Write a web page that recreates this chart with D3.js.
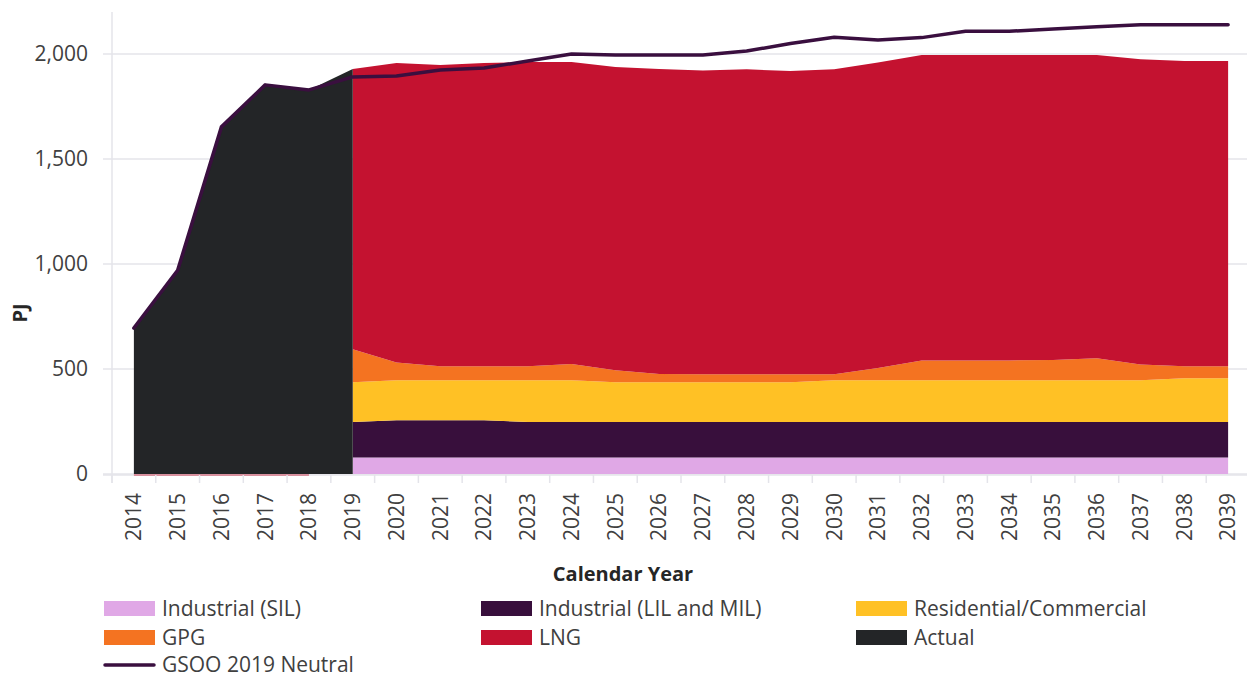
<!DOCTYPE html>
<html lang="en">
<head>
    <meta charset="UTF-8">
    <title>Gas consumption forecast</title>
    <script src="https://cdn.jsdelivr.net/npm/d3@7"></script>
    <style>
        body { margin: 0; background: #fff; }
        text { font-family: "Open Sans", "Noto Sans", sans-serif; }
    </style>
</head>
<body>
<script>
    // data (PJ)
    var years = d3.range(2014, 2040)
    var forecastYears = d3.range(2019, 2040)
    var actualYears = [2014, 2015, 2016, 2017, 2018, 2019]

    var actual = [695, 970, 1653, 1853, 1829, 1929]
    var sil = [78, 78, 78, 78, 78, 78, 78, 78, 78, 78, 78, 78, 78, 78, 78, 78, 78, 78, 78, 78, 78]
    var lilMil = [170, 178, 178, 178, 170, 170, 170, 170, 170, 170, 170, 170, 170, 170, 170, 170, 170, 170, 170, 170, 170]
    var resCom = [189, 190, 190, 190, 198, 198, 189, 189, 189, 189, 189, 198, 198, 198, 198, 198, 198, 198, 198, 208, 208]
    var gpg = [157, 85, 67, 67, 67, 78, 57, 39, 38, 38, 38, 29, 59, 95, 95, 95, 97, 105, 76, 57, 57]
    var lng = [1335, 1426, 1435, 1444, 1449, 1438, 1444, 1453, 1446, 1452, 1444, 1452, 1454, 1454, 1454, 1454, 1452, 1444, 1453, 1454, 1454]
    var gsoo = [695, 970, 1653, 1853, 1829, 1891, 1895, 1924, 1933, 1967, 2000, 1995, 1995, 1995, 2014, 2050, 2080,
        2067, 2078, 2108, 2108, 2119, 2130, 2139, 2139, 2139]

    var yTicks = [0, 500, 1000, 1500, 2000]

    var keys = ['sil', 'lil', 'res', 'gpg', 'lng']
    var names = {
        sil: 'Industrial (SIL)', lil: 'Industrial (LIL and MIL)', res: 'Residential/Commercial',
        gpg: 'GPG', lng: 'LNG', actual: 'Actual', gsoo: 'GSOO 2019 Neutral'
    }
    var colors = {
        sil: '#e0a8e6', lil: '#380f3c', res: '#ffc125', gpg: '#f47321', lng: '#c41230',
        actual: '#232527', gsoo: '#3a0f3f'
    }

    var width = 1247
    var height = 677

    var svg = d3.select('body')
        .append('svg')
        .attr('width', width)
        .attr('height', height)

    var x = d3.scaleBand()
        .domain(years)
        .range([112, 1250])
        .padding(0)
    var cx = function (yr) { return x(yr) + x.bandwidth() / 2 }

    var y = d3.scaleLinear()
        .domain([0, 2200])
        .range([474, 12])

    // gridlines
    svg.append('g')
        .selectAll('line')
        .data(yTicks)
        .enter()
        .append('line')
        .attr('x1', 103)
        .attr('x2', 1250)
        .attr('y1', function (d) { return y(d) })
        .attr('y2', function (d) { return y(d) })
        .attr('stroke', '#e4e4ea')
        .attr('stroke-width', 1.5)

    // y axis line
    svg.append('line')
        .attr('x1', 112).attr('x2', 112)
        .attr('y1', 12).attr('y2', 483)
        .attr('stroke', '#e4e4ea')
        .attr('stroke-width', 1.5)

    // stacked forecast areas
    var rows = forecastYears.map(function (yr, i) {
        return { year: yr, sil: sil[i], lil: lilMil[i], res: resCom[i], gpg: gpg[i], lng: lng[i] }
    })
    var stack = d3.stack().keys(keys)
    var layers = stack(rows)

    var area = d3.area()
        .x(function (d) { return cx(d.data.year) })
        .y0(function (d) { return y(d[0]) })
        .y1(function (d) { return y(d[1]) })

    svg.append('g')
        .selectAll('path')
        .data(layers)
        .enter()
        .append('path')
        .attr('fill', function (d) { return colors[d.key] })
        .attr('d', area)

    // actual area
    var actualArea = d3.area()
        .x(function (d, i) { return cx(actualYears[i]) })
        .y0(y(0))
        .y1(function (d) { return y(d) })

    svg.append('path')
        .datum(actual)
        .attr('fill', colors.actual)
        .attr('d', actualArea)

    // faint zero line of the stacked series before the forecast
    svg.append('line')
        .attr('x1', cx(2014)).attr('x2', cx(2018))
        .attr('y1', y(0) + 1).attr('y2', y(0) + 1)
        .attr('stroke', '#d8909e')
        .attr('stroke-width', 2)

    // x axis
    var xAxis = d3.axisBottom(x)
        .tickSize(0)
        .tickPadding(0)
    var gx = svg.append('g')
        .attr('transform', 'translate(0,' + y(0) + ')')
        .call(xAxis)
    gx.select('.domain').remove()
    gx.selectAll('text')
        .attr('transform', 'rotate(-90)')
        .attr('x', -19)
        .attr('y', 0)
        .attr('dy', '0.35em')
        .attr('text-anchor', 'end')
        .attr('font-size', 21)
        .attr('fill', '#404040')

    svg.append('line')
        .attr('x1', 103).attr('x2', 1250)
        .attr('y1', y(0) + 1).attr('y2', y(0) + 1)
        .attr('stroke', '#e4e4ea')
        .attr('stroke-width', 1.5)
        .lower()

    svg.append('g')
        .selectAll('line')
        .data(years.concat([2040]))
        .enter()
        .append('line')
        .attr('x1', function (d) { return d === 2040 ? 1249 : x(d) })
        .attr('x2', function (d) { return d === 2040 ? 1249 : x(d) })
        .attr('y1', y(0) + 1)
        .attr('y2', y(0) + 9)
        .attr('stroke', '#e4e4ea')
        .attr('stroke-width', 1.5)

    // y axis labels
    svg.append('g')
        .selectAll('text')
        .data(yTicks)
        .enter()
        .append('text')
        .attr('x', 88)
        .attr('y', function (d) { return y(d) })
        .attr('dy', '0.35em')
        .attr('text-anchor', 'end')
        .attr('font-size', 21)
        .attr('fill', '#404040')
        .text(d3.format(','))

    // GSOO line
    var line = d3.line()
        .x(function (d, i) { return cx(years[i]) })
        .y(function (d) { return y(d) })

    svg.append('path')
        .datum(gsoo)
        .attr('fill', 'none')
        .attr('stroke', colors.gsoo)
        .attr('stroke-width', 3.5)
        .attr('stroke-linejoin', 'round')
        .attr('stroke-linecap', 'round')
        .attr('d', line)

    // axis titles
    svg.append('text')
        .attr('x', 623)
        .attr('y', 581)
        .attr('text-anchor', 'middle')
        .attr('font-size', 20)
        .attr('font-weight', 'bold')
        .attr('fill', '#262626')
        .text('Calendar Year')

    svg.append('text')
        .attr('transform', 'translate(27,313) rotate(-90)')
        .attr('text-anchor', 'middle')
        .attr('font-size', 20)
        .attr('font-weight', 'bold')
        .attr('fill', '#262626')
        .text('PJ')

    // legend
    var legendItems = [
        { key: 'sil', col: 0, row: 0 }, { key: 'lil', col: 1, row: 0 }, { key: 'res', col: 2, row: 0 },
        { key: 'gpg', col: 0, row: 1 }, { key: 'lng', col: 1, row: 1 }, { key: 'actual', col: 2, row: 1 },
        { key: 'gsoo', col: 0, row: 2 }
    ]
    var colX = [104, 481, 856]
    var rowY = [609, 638, 665]

    var leg = svg.append('g')
        .selectAll('g')
        .data(legendItems)
        .enter()
        .append('g')
        .attr('transform', function (d) { return 'translate(' + colX[d.col] + ',' + rowY[d.row] + ')' })

    leg.filter(function (d) { return d.key !== 'gsoo' })
        .append('rect')
        .attr('x', 0)
        .attr('y', -8)
        .attr('width', 51)
        .attr('height', 15)
        .attr('fill', function (d) { return colors[d.key] })

    leg.filter(function (d) { return d.key === 'gsoo' })
        .append('line')
        .attr('x1', 1).attr('x2', 50)
        .attr('y1', 0).attr('y2', 0)
        .attr('stroke', colors.gsoo)
        .attr('stroke-width', 3.5)
        .attr('stroke-linecap', 'round')

    leg.append('text')
        .attr('x', 58)
        .attr('y', 0)
        .attr('dy', '0.35em')
        .attr('font-size', 21)
        .attr('fill', '#404040')
        .text(function (d) { return names[d.key] })
</script>
</body>
</html>
